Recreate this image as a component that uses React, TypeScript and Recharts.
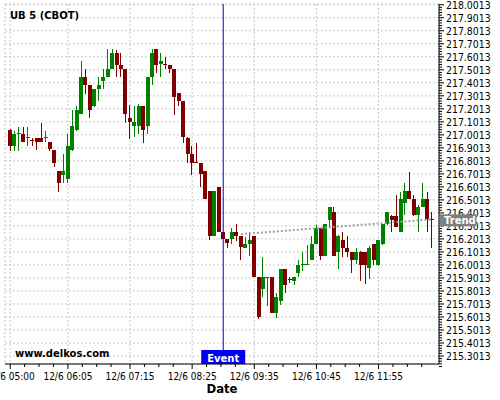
import React from "react";
import {
  ComposedChart,
  Bar,
  Line,
  XAxis,
  YAxis,
  CartesianGrid,
  ReferenceLine,
} from "recharts";

// 5-minute candles, 12/6
const TIMES = [
  "05:00", "05:05", "05:10", "05:15", "05:20", "05:25", "05:30", "05:35", "05:40", "05:45", "05:50", "05:55",
  "06:00", "06:05", "06:10", "06:15", "06:20", "06:25", "06:30", "06:35", "06:40", "06:45", "06:50", "06:55",
  "07:00", "07:05", "07:10", "07:15", "07:20", "07:25", "07:30", "07:35", "07:40", "07:45", "07:50", "07:55",
  "08:00", "08:05", "08:10", "08:15", "08:20", "08:25", "08:30", "08:35", "08:40", "08:45", "08:50", "08:55",
  "09:00", "09:05", "09:10", "09:15", "09:20", "09:25", "09:30", "09:35", "09:40", "09:45", "09:50", "09:55",
  "10:00", "10:05", "10:10", "10:15", "10:20", "10:25", "10:30", "10:35", "10:40", "10:45", "10:50", "10:55",
  "11:00", "11:05", "11:10", "11:15", "11:20", "11:25", "11:30", "11:35", "11:40", "11:45", "11:50", "11:55",
  "12:00", "12:05", "12:10", "12:15", "12:20", "12:25", "12:30", "12:35", "12:40", "12:45", "12:50", "12:55",
];

const OPEN = [
  217.038, 216.918, 217.009, 217.007, 216.981, 216.958, 216.974, 216.974, 216.98, 216.944, 216.884, 216.723,
  216.696, 216.665, 216.888, 217.038, 217.164, 217.448, 217.384, 217.223, 217.353, 217.415, 217.448, 217.507,
  217.632, 217.538, 217.505, 217.13, 217.069, 217.069, 217.223, 217.069, 217.448, 217.661, 217.543, 217.546,
  217.538, 217.505, 217.32, 217.263, 216.977, 216.854, 216.79, 216.787, 216.725, 216.572, 216.223, 216.602,
  216.257, 216.198, 216.198, 216.257, 216.223, 216.133, 216.162, 216.223, 215.906, 215.818, 215.904, 215.906,
  215.634, 215.726, 215.968, 215.893, 215.88, 215.939, 216.004, 216.004, 216.039, 216.16, 216.287, 216.072,
  216.346, 216.41, 216.103, 216.193, 216.133, 216.103, 216.039, 216.103, 216.098, 215.975, 216.16, 216.001,
  216.16, 216.313, 216.377, 216.377, 216.257, 216.48, 216.567, 216.51, 216.382, 216.449, 216.506, 216.354,
];

const HIGH = [
  217.046, 217.033, 217.064, 217.064, 217.064, 216.974, 216.977, 217.096, 217.031, 216.946, 216.884, 216.723,
  216.854, 217.007, 217.192, 217.223, 217.566, 217.505, 217.384, 217.356, 217.443, 217.505, 217.659, 217.659,
  217.653, 217.63, 217.507, 217.23, 217.223, 217.238, 217.223, 217.448, 217.661, 217.661, 217.628, 217.597,
  217.538, 217.507, 217.323, 217.263, 216.982, 216.915, 216.942, 216.787, 216.725, 216.572, 216.572, 216.602,
  216.257, 216.198, 216.285, 216.316, 216.223, 216.213, 216.254, 216.223, 215.906, 216.064, 215.911, 215.906,
  215.783, 215.968, 215.968, 215.908, 215.911, 216.039, 216.1, 216.158, 216.223, 216.308, 216.287, 216.316,
  216.446, 216.446, 216.231, 216.252, 216.226, 216.103, 216.133, 216.108, 216.1, 216.147, 216.162, 216.193,
  216.316, 216.408, 216.385, 216.539, 216.564, 216.628, 216.718, 216.539, 216.462, 216.628, 216.564, 216.41,
];

const LOW = [
  216.879, 216.879, 216.879, 216.946, 216.915, 216.915, 216.884, 216.948, 216.948, 216.879, 216.752, 216.564,
  216.633, 216.631, 216.879, 217.031, 217.161, 217.315, 217.127, 217.219, 217.261, 217.351, 217.443, 217.505,
  217.446, 217.446, 217.094, 216.971, 216.984, 217.007, 216.942, 217.007, 217.384, 217.476, 217.446, 217.507,
  217.474, 217.154, 217.223, 216.941, 216.782, 216.692, 216.782, 216.6, 216.51, 216.193, 216.223, 216.257,
  216.198, 216.129, 216.162, 216.187, 216.039, 216.133, 216.067, 215.906, 215.585, 215.752, 215.685, 215.634,
  215.591, 215.693, 215.783, 215.862, 215.847, 215.908, 215.954, 216.001, 216.039, 216.16, 216.039, 216.07,
  216.285, 216.07, 215.97, 216.064, 216.064, 215.937, 216.006, 215.878, 215.855, 215.893, 216.001, 215.993,
  216.154, 216.308, 216.254, 216.29, 216.254, 216.385, 216.508, 216.381, 216.257, 216.446, 216.257, 216.129,
];

const CLOSE = [
  216.918, 217.007, 217.013, 216.948, 216.984, 216.952, 216.948, 216.948, 216.984, 216.89, 216.788, 216.633,
  216.723, 216.915, 217.069, 217.192, 217.448, 217.384, 217.192, 217.353, 217.384, 217.448, 217.509, 217.632,
  217.538, 217.509, 217.161, 217.103, 217.1, 217.223, 217.038, 217.448, 217.632, 217.54, 217.569, 217.54,
  217.509, 217.294, 217.263, 216.982, 216.856, 216.788, 216.785, 216.698, 216.51, 216.223, 216.572, 216.257,
  216.198, 216.167, 216.257, 216.223, 216.137, 216.162, 216.193, 215.906, 215.599, 215.906, 215.906, 215.634,
  215.752, 215.968, 215.849, 215.889, 215.911, 216.001, 216.006, 216.006, 216.16, 216.287, 216.072, 216.313,
  216.444, 216.072, 216.226, 216.133, 216.103, 216.039, 216.103, 216.001, 216.001, 216.129, 216.039, 216.19,
  216.313, 216.406, 216.346, 216.29, 216.506, 216.567, 216.51, 216.382, 216.444, 216.506, 216.352, 216.35,
];

const TREND_TIMES = ["09:20", "12:55"];
const TREND_VALUES = [216.238, 216.352];

const EVENT_TIME = "09:00";

const X_TICKS = ["05:00", "06:05", "07:15", "08:25", "09:35", "10:45", "11:55"];

const Y_TICKS = [
  215.3013, 215.4013, 215.5013, 215.6013, 215.7013, 215.8013, 215.9013, 216.0013, 216.1013, 216.2013,
  216.3013, 216.4013, 216.5013, 216.6013, 216.7013, 216.8013, 216.9013, 217.0013, 217.1013, 217.2013,
  217.3013, 217.4013, 217.5013, 217.6013, 217.7013, 217.8013, 217.9013, 218.0013,
];

const Y_DOMAIN = [215.24, 218.007];

// layout
const W = 500;
const H = 400;
const MARGIN = { top: 4, right: 5, left: 5, bottom: 0 };
const X_AXIS_H = 36;
const Y_AXIS_W = 56;
const PLOT_RIGHT = W - MARGIN.right - Y_AXIS_W;
const PLOT_TOP = MARGIN.top;
const PLOT_H = H - MARGIN.top - MARGIN.bottom - X_AXIS_H;

const UP = "#008000";
const DOWN = "#800000";
const CONDENSED = "'DejaVu Sans Condensed', 'DejaVu Sans', sans-serif";

const rows = TIMES.map((time, i) => {
  const t = TREND_TIMES.indexOf(time);
  return {
    time,
    open: OPEN[i],
    high: HIGH[i],
    low: LOW[i],
    close: CLOSE[i],
    trend: t >= 0 ? TREND_VALUES[t] : null,
  };
});

function Candle(props: any) {
  const { x, y, width, height, payload } = props;
  const { open, close, high, low } = payload;
  const k = height / (high - low || 1);
  const yOpen = y + (high - open) * k;
  const yClose = y + (high - close) * k;
  const color = close >= open ? UP : DOWN;
  const top = Math.min(yOpen, yClose);
  const bodyH = Math.max(1, Math.abs(yOpen - yClose));
  const cx = Math.floor(x + width / 2) + 0.5;
  return (
    <g shapeRendering="crispEdges">
      <line x1={cx} x2={cx} y1={y} y2={y + height} stroke={color} strokeWidth={1} />
      <rect x={x} y={top} width={width} height={bodyH} fill={color} />
    </g>
  );
}

function XTick(props: any) {
  const { x, y, payload } = props;
  const axisY = y - 7;
  return (
    <g>
      <text x={x} y={y} dy={9} textAnchor="middle" fontSize={10} fontFamily={CONDENSED} fill="#000">
        {"12/6 " + payload.value}
      </text>
      {[1, 2, 3].map((k) => (
        <line key={k} x1={x + k * 14.4} x2={x + k * 14.4} y1={axisY} y2={axisY + 3} stroke="#000" />
      ))}
    </g>
  );
}

// tick label plus the small minor ticks under it
function YTick(props: any) {
  const { x, y, payload } = props;
  const axisX = x - 7;
  return (
    <g>
      <text x={x} y={y} dy={3.8} textAnchor="start" fontSize={10.4} fontFamily={CONDENSED} fill="#000">
        {Number(payload.value).toFixed(4)}
      </text>
      {[1, 2, 3, 4].map((k) => (
        <line key={k} x1={axisX} x2={axisX + 3} y1={y + k * 2.6} y2={y + k * 2.6} stroke="#000" />
      ))}
    </g>
  );
}

function EventTag(props: any) {
  const vb = props.viewBox || {};
  const cx = vb.x;
  const bottom = vb.y + vb.height;
  return (
    <g>
      <rect x={cx - 22} y={bottom - 14} width={44} height={14} fill="#0000ee" />
      <text x={cx} y={bottom - 2.5} textAnchor="middle" fontSize={10} fontWeight="bold" fontFamily="DejaVu Sans" fill="#fff">
        Event
      </text>
    </g>
  );
}

// sits over the y tick labels, so it goes in the overlay
function TrendTag() {
  const last = TREND_VALUES[TREND_VALUES.length - 1];
  const cy = PLOT_TOP + ((Y_DOMAIN[1] - last) / (Y_DOMAIN[1] - Y_DOMAIN[0])) * PLOT_H;
  const x0 = PLOT_RIGHT + 0.5;
  return (
    <g>
      <rect x={x0} y={cy - 5} width={37} height={12} fill="#808080" />
      <text x={x0 + 4.5} y={cy + 5} fontSize={10} fontWeight="bold" fontFamily="DejaVu Sans" fill="#fff">
        Trend
      </text>
    </g>
  );
}

export default function App() {
  return (
    <div style={{ position: "absolute", left: 0, top: 0, width: W, height: H, background: "#fff" }}>
      <ComposedChart
        width={W}
        height={H}
        data={rows}
        margin={MARGIN}
        barCategoryGap="0%"
        style={{ fontFamily: "DejaVu Sans" }}
      >
        <CartesianGrid stroke="#c8c8c8" strokeDasharray="2 2" />
        <XAxis
          dataKey="time"
          ticks={X_TICKS}
          interval={0}
          height={X_AXIS_H}
          padding={{ left: 3, right: 5 }}
          tickSize={5}
          tickMargin={2}
          axisLine={{ stroke: "#000" }}
          tickLine={{ stroke: "#000" }}
          tick={<XTick />}
        />
        <YAxis
          orientation="right"
          type="number"
          domain={Y_DOMAIN}
          allowDataOverflow
          ticks={Y_TICKS}
          interval={0}
          width={Y_AXIS_W}
          tickSize={5}
          tickMargin={2}
          axisLine={{ stroke: "#000" }}
          tickLine={{ stroke: "#000" }}
          tick={<YTick />}
        />
        <Bar dataKey={(d: any) => [d.low, d.high]} shape={Candle} isAnimationActive={false} />
        <Line
          dataKey="trend"
          connectNulls
          dot={false}
          stroke="#a0a0a0"
          strokeWidth={2}
          strokeDasharray="2 2"
          isAnimationActive={false}
        />
        <ReferenceLine x={EVENT_TIME} stroke="#0000dd" strokeWidth={1} label={EventTag} />
      </ComposedChart>
      <svg width={W} height={H} style={{ position: "absolute", left: 0, top: 0, pointerEvents: "none" }}>
        <text x={10} y={19} fontSize={10} fontWeight="bold" fontFamily="DejaVu Sans" fill="#000">
          UB 5 (CBOT)
        </text>
        <text x={15} y={357} fontSize={10} fontWeight="bold" fontFamily="DejaVu Sans" fill="#000">
          www.delkos.com
        </text>
        <text x={222} y={393} textAnchor="middle" fontSize={13} fontWeight="bold" fontFamily={CONDENSED} fill="#000">
          Date
        </text>
        <TrendTag />
      </svg>
    </div>
  );
}
